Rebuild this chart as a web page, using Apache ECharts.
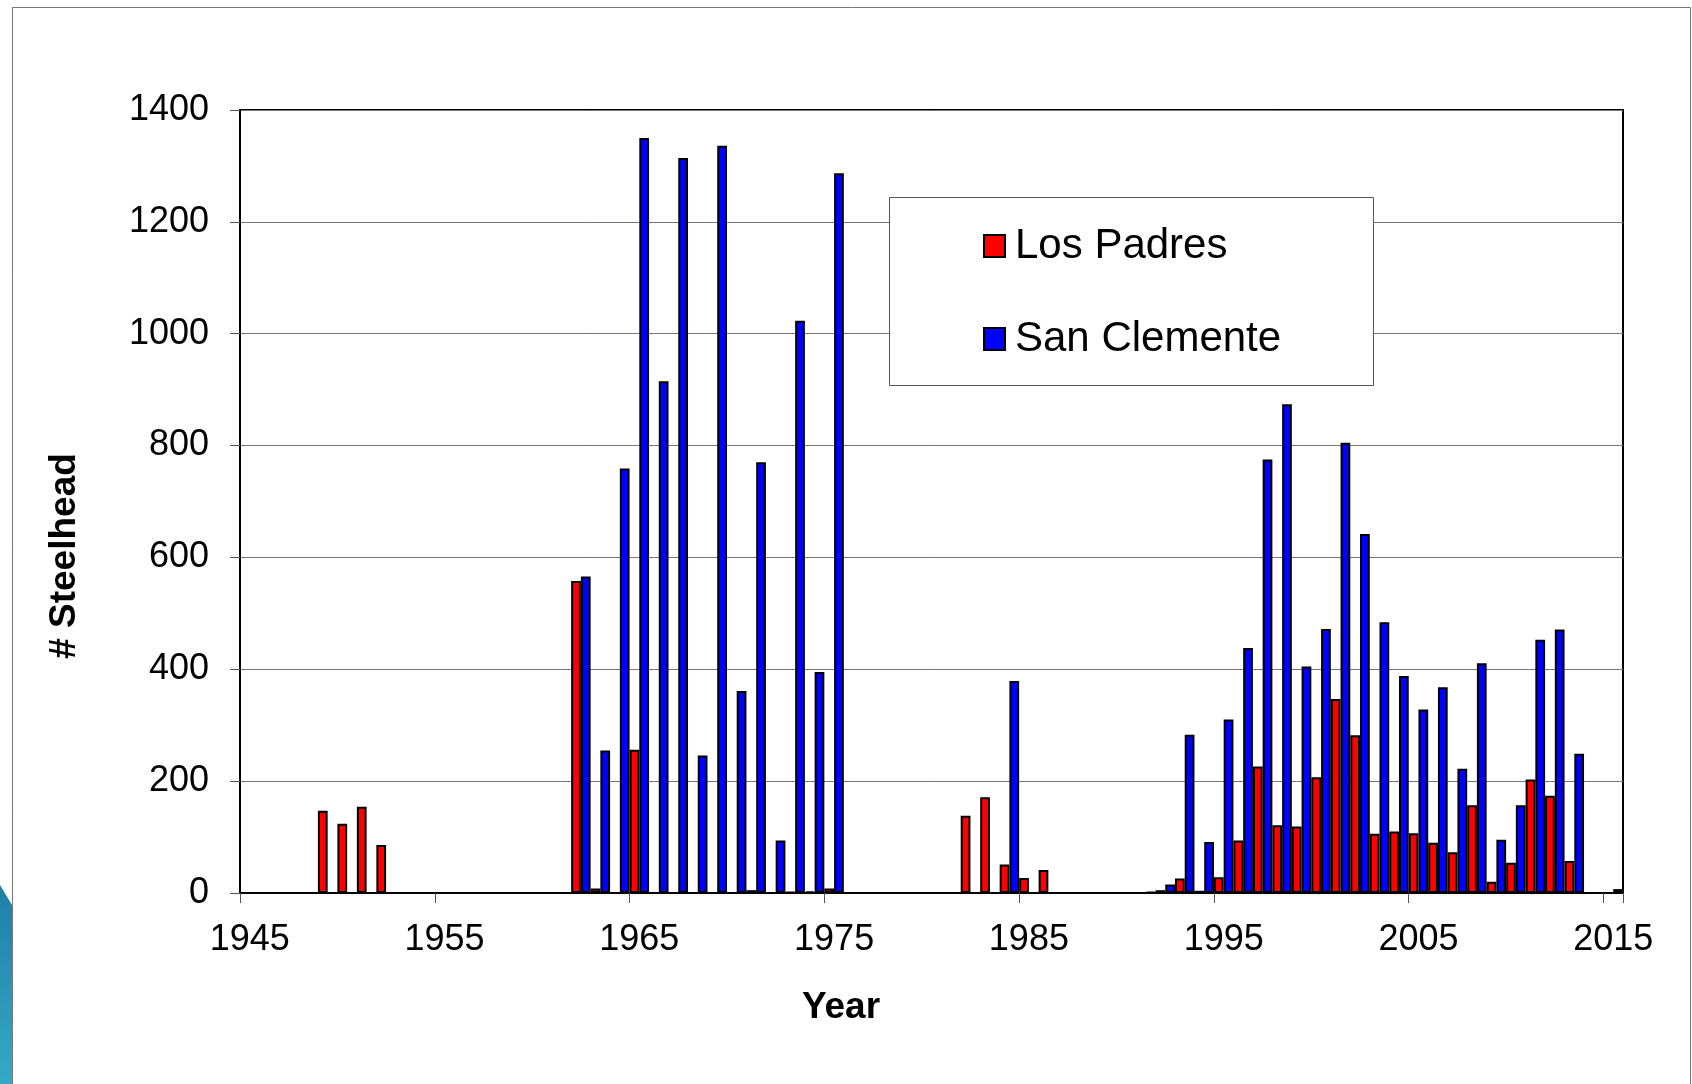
<!DOCTYPE html>
<html>
<head>
<meta charset="utf-8">
<script src="https://cdn.jsdelivr.net/npm/echarts@6/dist/echarts.min.js"></script>
<style>
  html, body { margin: 0; padding: 0; background: #fff; }
  #chart { width: 1692px; height: 1084px; }
</style>
</head>
<body>
<div id="chart"></div>
<script>
// Years 1945..2015 (category axis)
const years = [];
for (let y = 1945; y <= 2015; y++) years.push(String(y));

// Los Padres counts (null = no data)
const losPadres = [
  null, null, null, null,            // 1945-1948
  147, 124, 154, 86,                 // 1949-1952
  null, null, null, null, null, null, null, null, null, // 1953-1961
  558, 8, null, 256,                 // 1962-1965
  null, null, null, null, null,      // 1966-1970
  5, null, 2, 3, 8,                  // 1971-1975
  null, null, null, null, null, null,// 1976-1981
  138, 171, 51, 27, 41,              // 1982-1986
  null, null, null, null, null,      // 1987-1991
  5, 26, 4, 28, 94, 226, 121, 119, 207, 347, 282, // 1992-2002
  106, 110, 107, 90, 73, 157, 20, 54, 203, 174, 57, // 2003-2013
  null, null                         // 2014-2015
];

// San Clemente counts (null = no data)
const sanClemente = [
  null, null, null, null, null, null, null, null, null, null, null, null, null, null, null, null, null, // 1945-1961
  566, 255, 759, 1350, 915, 1314, 246, 1336, 361, 770, 94, 1023, 395, 1287, // 1962-1975
  null, null, null, null, null, null, null, null, // 1976-1983
  379,                               // 1984
  null, null, null, null, null, null,// 1985-1990
  2, 15, 283, 91, 310, 438, 775, 874, 405, 472, 805, 642, // 1991-2002
  484, 388, 328, 368, 222, 411, 95, 157, 453, 471, 249,   // 2003-2013
  null, 7                            // 2014-2015
];

const seriesNames = ['Los Padres', 'San Clemente'];
const yTicks = { min: 0, max: 1400, interval: 200 };
const xTitle = 'Year';
const yTitle = '# Steelhead';

const FONT = '"Liberation Sans", Arial, Helvetica, sans-serif';

const chart = echarts.init(document.getElementById('chart'), null, { renderer: 'canvas' });

const legendCommon = {
  padding: 0, z: 10, left: 983,
  icon: 'rect', itemWidth: 21, itemHeight: 22,
  itemStyle: { borderColor: '#000', borderWidth: 2 },
  textStyle: { fontSize: 42, color: '#000', fontFamily: FONT, padding: [0, 0, 0, 5] },
  selectedMode: false
};

const option = {
  backgroundColor: '#ffffff',
  animation: false,
  grid: {
    left: 240, right: 69, top: 110, bottom: 191,
    show: true, borderColor: '#000', borderWidth: 2, backgroundColor: 'transparent'
  },
  xAxis: {
    type: 'category',
    data: years,
    boundaryGap: true,
    axisLine: { show: true, lineStyle: { color: '#000', width: 2 } },
    axisTick: { show: true, interval: 9, length: 10, alignWithLabel: false, lineStyle: { color: '#555', width: 1 } },
    axisLabel: { interval: 9, fontSize: 36, color: '#000', fontFamily: FONT, margin: 29 },
    splitLine: { show: false }
  },
  yAxis: {
    type: 'value',
    min: yTicks.min, max: yTicks.max, interval: yTicks.interval,
    axisLine: { show: true, lineStyle: { color: '#000', width: 2 } },
    axisTick: { show: true, length: 10, lineStyle: { color: '#555', width: 1 } },
    axisLabel: { fontSize: 36, color: '#000', fontFamily: FONT, margin: 31,
                 formatter: function (v) { return String(v); } },
    splitLine: { show: true, lineStyle: { color: '#777', width: 1 } }
  },
  legend: [
    Object.assign({}, legendCommon, { data: [seriesNames[0]], top: 225 }),
    Object.assign({}, legendCommon, { data: [seriesNames[1]], top: 318 })
  ],
  graphic: [
    { type: 'rect', z: 1, shape: { x: 12.5, y: 7.5, width: 1678, height: 1090 },
      style: { fill: 'none', stroke: '#777', lineWidth: 1 } },
    { type: 'polygon', z: 1,
      shape: { points: [[0, 885], [6, 895], [12, 905], [12, 1084], [0, 1084]] },
      style: { fill: new echarts.graphic.LinearGradient(0, 0, 1, 1, [
        { offset: 0, color: '#1f7fa6' }, { offset: 1, color: '#35a9c8' }]) } },
    { type: 'rect', z: 5, shape: { x: 889.5, y: 197.5, width: 484, height: 188 },
      style: { fill: '#fff', stroke: '#555', lineWidth: 1 } },
    { type: 'text', z: 5, x: 841, y: 1008,
      style: { text: xTitle, font: 'bold 37px ' + FONT, fill: '#000', align: 'center', verticalAlign: 'middle' } },
    { type: 'text', z: 5, x: 65, y: 556, rotation: Math.PI / 2,
      style: { text: yTitle, font: 'bold 37px ' + FONT, fill: '#000', align: 'center', verticalAlign: 'middle' } }
  ],
  series: [
    {
      name: seriesNames[0], type: 'bar', data: losPadres,
      barGap: '0%', barCategoryGap: '0%',
      itemStyle: { color: '#ff0000', borderColor: '#000', borderWidth: 2 }
    },
    {
      name: seriesNames[1], type: 'bar', data: sanClemente,
      barGap: '0%', barCategoryGap: '0%',
      itemStyle: { color: '#0000ff', borderColor: '#000', borderWidth: 2 }
    }
  ]
};

chart.setOption(option);
</script>
</body>
</html>
